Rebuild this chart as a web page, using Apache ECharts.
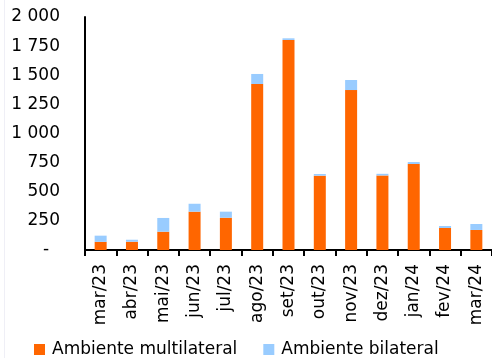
<!DOCTYPE html>
<html>
<head>
<meta charset="utf-8">
<script src="https://cdn.jsdelivr.net/npm/echarts@6/dist/echarts.min.js"></script>
<style>
  html, body { margin: 0; padding: 0; background: #fff; }
  #chart { width: 492px; height: 358px; }
</style>
</head>
<body>
<div id="chart"></div>
<script>
// Monthly volumes by trading environment
const months = ['mar/23', 'abr/23', 'mai/23', 'jun/23', 'jul/23', 'ago/23', 'set/23',
                'out/23', 'nov/23', 'dez/23', 'jan/24', 'fev/24', 'mar/24'];
const multilateral = [70, 71, 157, 329, 277, 1425, 1803, 638, 1373, 640, 738, 189, 172];
const bilateral    = [53, 17, 118, 68, 52, 86, 14, 14, 86, 14, 17, 17, 51];
const yTicks = { min: 0, max: 2000, step: 250 };

const FONT = 'DejaVu Sans';

function fmtThousands(v) {
  if (v === 0) return '-  ';
  return String(v).replace(/\B(?=(\d{3})+(?!\d))/g, ' ');
}

const chart = echarts.init(document.getElementById('chart'), null, { renderer: 'canvas' });

chart.setOption({
  animation: false,
  backgroundColor: '#ffffff',
  textStyle: { fontFamily: FONT },
  grid: { left: 85, top: 17, width: 416, bottom: 108, containLabel: false },
  graphic: [
    {
      type: 'line',
      shape: { x1: 4.5, y1: 0, x2: 4.5, y2: 358 },
      style: { stroke: '#efeff6', lineWidth: 1 },
      silent: true
    }
  ],
  legend: {
    left: 34,
    top: 341,
    itemWidth: 11,
    itemHeight: 11,
    itemGap: 26,
    icon: 'rect',
    padding: 0,
    textStyle: { fontFamily: FONT, fontSize: 17, color: '#000', padding: [0, 0, 0, 2] },
    data: ['Ambiente multilateral', 'Ambiente bilateral']
  },
  xAxis: {
    type: 'category',
    data: months,
    axisLine: { show: true, lineStyle: { color: '#000', width: 2 } },
    axisTick: { show: true, length: 6, lineStyle: { color: '#000', width: 2 } },
    axisLabel: {
      rotate: 90,
      interval: 0,
      margin: 14,
      fontFamily: FONT,
      fontSize: 17,
      color: '#000'
    }
  },
  yAxis: {
    type: 'value',
    min: yTicks.min,
    max: yTicks.max,
    interval: yTicks.step,
    splitLine: { show: false },
    axisLine: { show: true, lineStyle: { color: '#000', width: 2 } },
    axisTick: { show: false },
    axisLabel: {
      margin: 25,
      fontFamily: FONT,
      fontSize: 17,
      color: '#000',
      formatter: fmtThousands
    }
  },
  series: [
    {
      name: 'Ambiente multilateral',
      type: 'bar',
      stack: 'total',
      barWidth: 12,
      data: multilateral,
      itemStyle: { color: '#FF6600' }
    },
    {
      name: 'Ambiente bilateral',
      type: 'bar',
      stack: 'total',
      barWidth: 12,
      data: bilateral,
      itemStyle: { color: '#99CCFF' }
    }
  ]
});
</script>
</body>
</html>
